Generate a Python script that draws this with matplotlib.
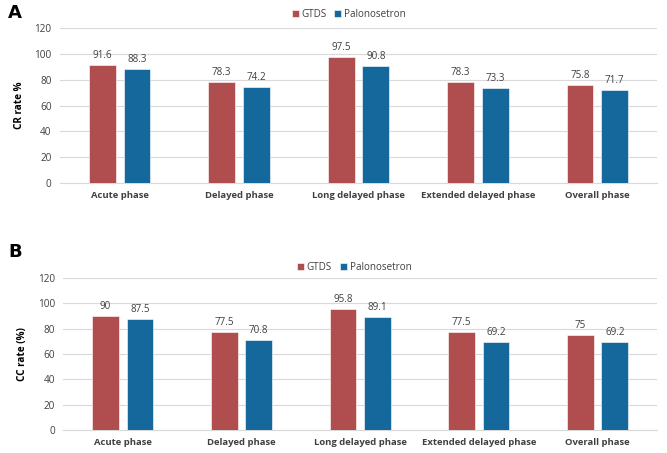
import numpy as np
import matplotlib.pyplot as plt

# Data
phases = ["Acute phase", "Delayed phase", "Long delayed phase",
          "Extended delayed phase", "Overall phase"]
cr_gtds = [91.6, 78.3, 97.5, 78.3, 75.8]
cr_palo = [88.3, 74.2, 90.8, 73.3, 71.7]
cc_gtds = [90, 77.5, 95.8, 77.5, 75]
cc_palo = [87.5, 70.8, 89.1, 69.2, 69.2]
cc_gtds_lbl = ["90", "77.5", "95.8", "77.5", "75"]

red = '#B04E4F'
blue = '#15689C'
grid_c = '#D9D9D9'
txt_c = '#404040'

plt.rcParams['font.family'] = ['Open Sans', 'DejaVu Sans']

fig = plt.figure(figsize=(6.67, 4.53), dpi=100)


def panel(rect, g, p, ylabel, letter, letter_y, leg_x, leg_y, glabels=None):
    ax = fig.add_axes(rect)
    x = np.arange(len(phases))
    w = 0.225
    off = 0.145
    b1 = ax.bar(x - off, g, w, color=red, edgecolor='white', linewidth=0.4, label='GTDS', zorder=3)
    b2 = ax.bar(x + off, p, w, color=blue, edgecolor='white', linewidth=0.4, label='Palonosetron', zorder=3)
    ax.bar_label(b1, labels=glabels, padding=3, fontsize=7.1, color=txt_c)
    ax.bar_label(b2, padding=3, fontsize=7.1, color=txt_c)
    ax.set_xlim(-0.5, len(phases) - 0.5)
    ax.set_ylim(0, 120)
    ax.set_yticks(range(0, 121, 20))
    ax.yaxis.grid(True, color=grid_c, linewidth=0.8, zorder=0)
    for s in ['top', 'right', 'left']:
        ax.spines[s].set_visible(False)
    ax.spines['bottom'].set_color(grid_c)
    ax.tick_params(length=0, labelsize=7.2, colors=txt_c, pad=6)
    ax.set_xticks(x)
    ax.set_xticklabels(phases, fontweight='bold', fontsize=6.8)
    ax.set_ylabel(ylabel, fontweight='bold', fontsize=7.2, color='black', labelpad=7)
    fig.text(0.012, letter_y, letter, fontsize=13, fontweight='bold',
             family='DejaVu Sans', va='center')
    fig.legend(handles=[b1, b2], loc='center', bbox_to_anchor=(leg_x, leg_y),
               ncol=2, frameon=False, fontsize=7.1, handlelength=0.7,
               handleheight=0.7, handletextpad=0.3, columnspacing=0.8,
               labelcolor=txt_c)
    return ax


panel([0.09, 0.596, 0.895, 0.342], cr_gtds, cr_palo, 'CR rate %', 'A', 0.972, 0.523, 0.968)
panel([0.095, 0.051, 0.89, 0.335], cc_gtds, cc_palo, 'CC rate (%)', 'B', 0.443, 0.531, 0.41,
      glabels=cc_gtds_lbl)

fig.savefig('out.png', dpi=100)
